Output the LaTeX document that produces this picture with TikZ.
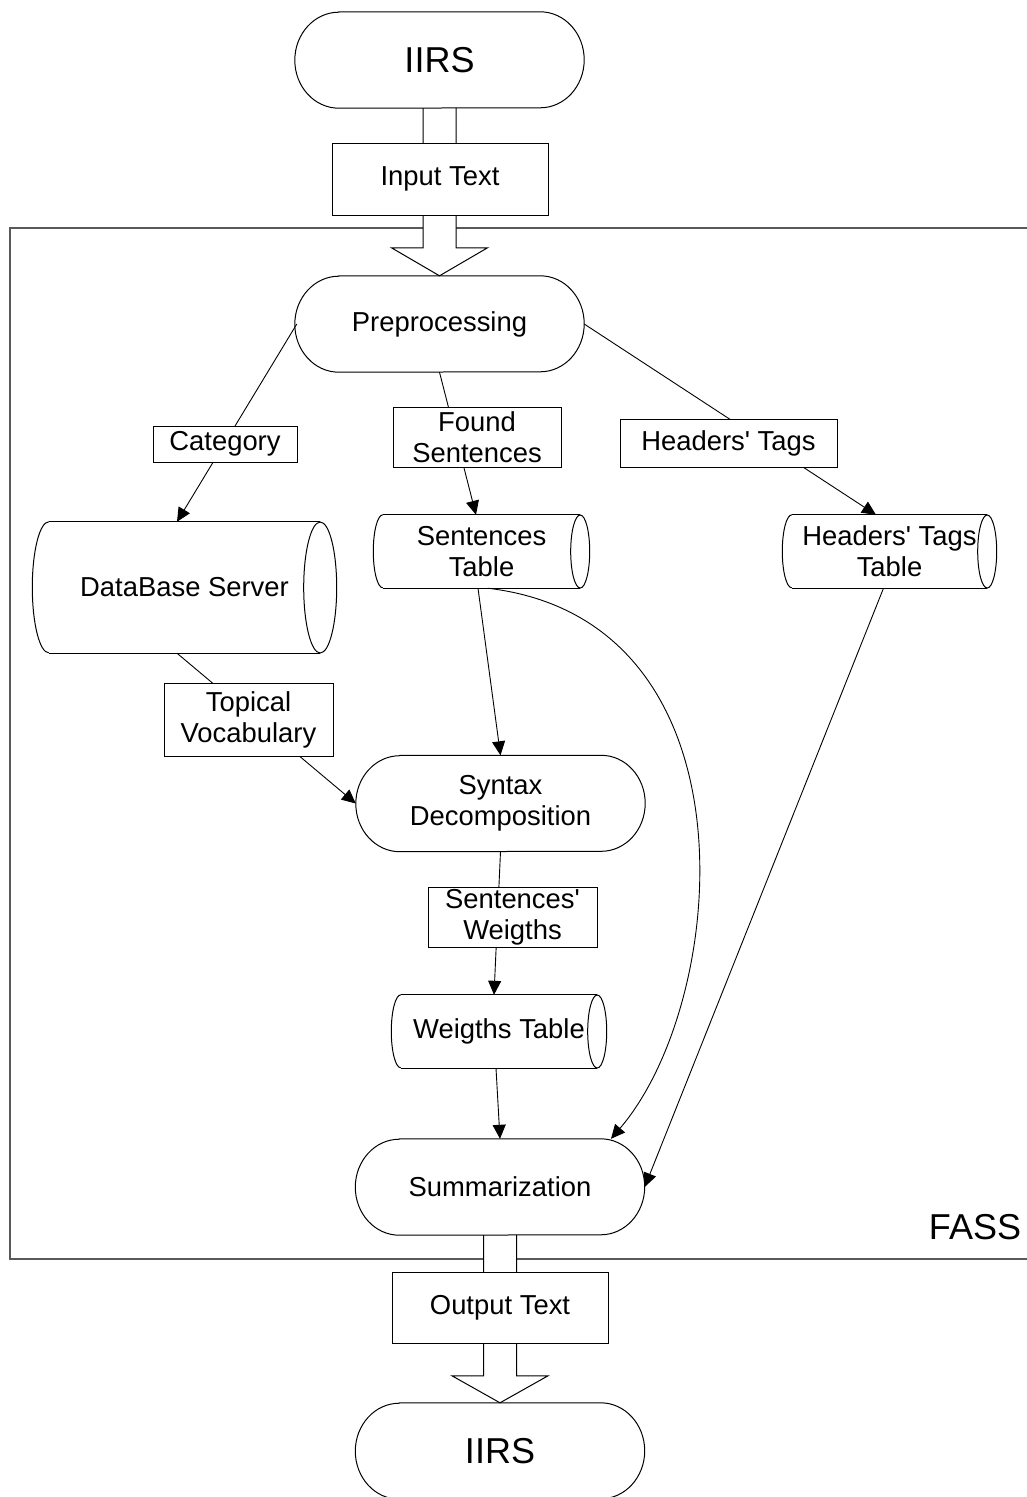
\documentclass[tikz,border=0pt]{standalone}
\usepackage{fontspec}
\setmainfont{Liberation Sans}
\usetikzlibrary{arrows.meta,calc}

\pgfdeclarelayer{bg}
\pgfsetlayers{bg,main}

% outline of a terminal: straight top and bottom, elliptical ends
\newcommand\termoutline[3]{%
  \draw[shapeline] ([xshift=#2]#1.north west) -- ([xshift=-#2]#1.north east)
    arc[start angle=90,end angle=-90,x radius=#2,y radius=#3]
    -- ([xshift=#2]#1.south west)
    arc[start angle=270,end angle=90,x radius=#2,y radius=#3] -- cycle;}

% outline of a horizontal storage cylinder
\newcommand\cyloutline[3]{%
  \draw[shapeline] (#1.north west) -- (#1.north east);
  \draw[shapeline] (#1.south west) -- (#1.south east);
  \draw[shapeline] (#1.east) ellipse[x radius=#2,y radius=#3];
  \draw[shapeline] (#1.north west) arc[start angle=90,end angle=270,x radius=#2,y radius=#3];}

% straight apostrophe
\newcommand\apos{\textquotesingle}

\tikzset{
  mainfs/.style={font=\fontsize{27.4}{31}\selectfont},
  bigfs/.style={font=\fontsize{36}{40}\selectfont},
  shapeline/.style={line width=1pt, draw=black},
  frameline/.style={line width=1.2pt, draw=black!65},
  terminal/.style={rectangle, inner sep=0pt, minimum width=289pt, minimum height=96pt, align=center, mainfs},
  cylbody/.style={rectangle, inner sep=0pt, align=center, mainfs},
  labelbox/.style={rectangle, draw=black, line width=1pt, fill=white, inner sep=0pt, align=center, mainfs},
  conn/.style={line width=0.9pt, draw=black, -{Triangle[length=14pt,width=13pt]}},
  fatarrow/.style={line width=1pt, draw=black, fill=white, line join=miter},
}

\begin{document}
\begin{tikzpicture}[x=1pt,y=-1pt]
\useasboundingbox (0,0) rectangle (1026,1497);

% terminals
\node[terminal, bigfs] (iirs1) at (439.5,60) {IIRS};
\node[terminal] (pre) at (439.5,324) {Preprocessing};
\node[terminal] (syn) at (500.5,803.5) {Syntax\\Decomposition};
\node[terminal] (sum) at (500,1187) {Summarization};
\node[terminal, bigfs] (iirs2) at (500,1451) {IIRS};
\termoutline{iirs1}{44pt}{48pt}
\termoutline{pre}{44pt}{48pt}
\termoutline{syn}{44pt}{48pt}
\termoutline{sum}{44pt}{48pt}
\termoutline{iirs2}{44pt}{48pt}

% storage cylinders
\node[cylbody, minimum width=271pt, minimum height=131pt] (db) at (184.5,587.5) {DataBase Server};
\node[cylbody, minimum width=197pt, minimum height=73pt] (st) at (481.5,551.5) {Sentences\\Table};
\node[cylbody, minimum width=195pt, minimum height=73pt] (ht) at (889.5,551.5) {Headers\apos{} Tags\\Table};
\node[cylbody, minimum width=196pt, minimum height=73pt] (wt) at (499,1031.5) {Weigths Table};
\cyloutline{db}{16.5pt}{65.5pt}
\cyloutline{st}{9.5pt}{36.5pt}
\cyloutline{ht}{9.5pt}{36.5pt}
\cyloutline{wt}{9.5pt}{36.5pt}

% data boxes
\node[labelbox, minimum width=216pt, minimum height=72pt] (input) at (440,179) {Input Text};
\node[labelbox, minimum width=216pt, minimum height=71pt] (output) at (500,1307.5) {Output Text};
\node[labelbox, minimum width=144pt, minimum height=36pt] (cat) at (225,444) {Category};
\node[labelbox, minimum width=168pt, minimum height=60pt] (found) at (477,437) {Found\\Sentences};
\node[labelbox, minimum width=217pt, minimum height=48pt] (hdr) at (728.5,443) {Headers\apos{} Tags};
\node[labelbox, minimum width=169pt, minimum height=73pt] (topic) at (248.5,719.5) {Topical\\Vocabulary};
\node[labelbox, minimum width=169pt, minimum height=60pt] (sw) at (512.5,917) {Sentences\apos\\Weigths};

% system label
\node[bigfs, inner sep=0pt] (fass) at (975,1227) {FASS};

\begin{pgfonlayer}{bg}
  % system frame
  \draw[frameline] (1030,228) -- (10,228) -- (10,1259) -- (1030,1259);

  % wide flow arrows into and out of the system
  \draw[fatarrow] ([xshift=-16.5pt]iirs1.south) -- ([xshift=-16.5pt,yshift=28pt]pre.north)
    -- ([xshift=-48pt,yshift=28pt]pre.north) -- (pre.north)
    -- ([xshift=48pt,yshift=28pt]pre.north) -- ([xshift=16.5pt,yshift=28pt]pre.north)
    -- ([xshift=16.5pt]iirs1.south);
  \draw[fatarrow] ([xshift=-16.5pt]sum.south) -- ([xshift=-16.5pt,yshift=27pt]iirs2.north)
    -- ([xshift=-48pt,yshift=27pt]iirs2.north) -- (iirs2.north)
    -- ([xshift=48pt,yshift=27pt]iirs2.north) -- ([xshift=16.5pt,yshift=27pt]iirs2.north)
    -- ([xshift=16.5pt]sum.south);

  % data flows
  \draw[conn] ([xshift=2pt]pre.west) -- ([xshift=-7.5pt]db.north);
  \draw[conn] (pre.south) -- ([xshift=-5.5pt]st.north);
  \draw[conn] (pre.east) -- ([xshift=-13.5pt]ht.north);
  \draw[conn] ([xshift=-7.5pt]db.south) -- (syn.west);
  \draw[conn] ([xshift=-3.5pt]st.south) -- (syn.north);
  \draw[conn] ([xshift=6pt]st.south) .. controls (760,620) and (730,1000) .. ([xshift=111pt]sum.north);
  \draw[conn] (syn.south) -- ([xshift=-5pt]wt.north);
  \draw[conn] ([xshift=-3pt]wt.south) -- (sum.north);
  \draw[conn] ([xshift=-6pt]ht.south) -- (sum.east);
\end{pgfonlayer}
\end{tikzpicture}
\end{document}
